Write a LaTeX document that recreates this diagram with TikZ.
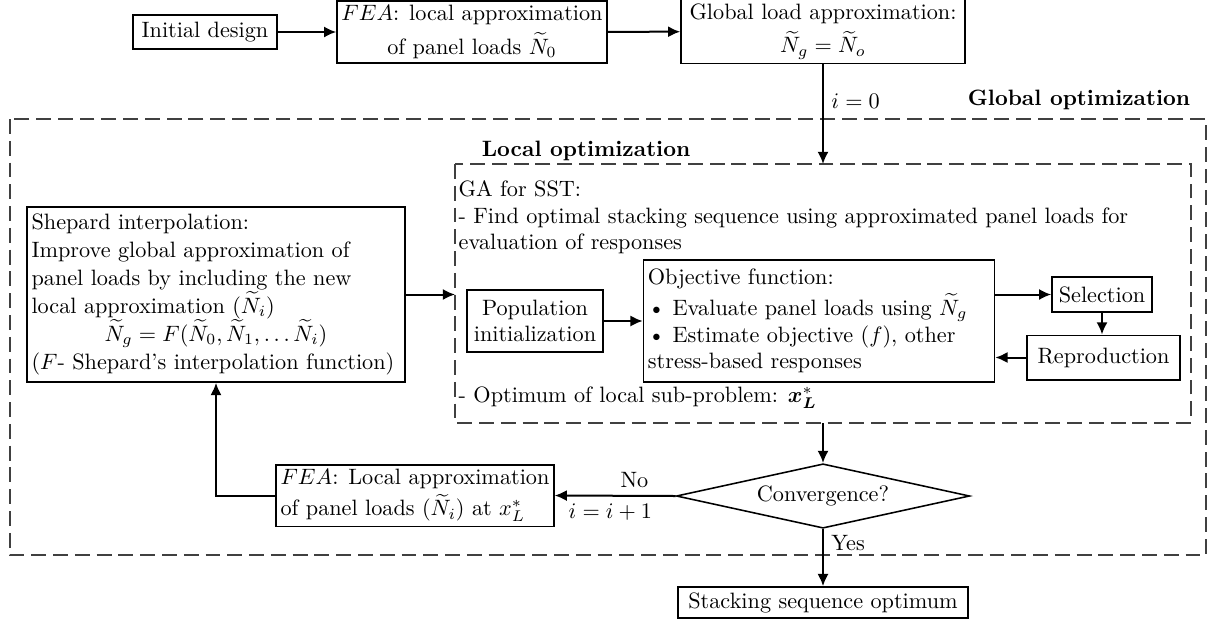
\documentclass[tikz,border=0pt]{standalone}
\usepackage{amsmath,bm}
\usetikzlibrary{shapes.geometric,arrows.meta}

\tikzset{
  box/.style={draw, line width=0.7pt, inner sep=2pt, align=center},
  flow/.style={line width=0.9pt, -{Latex[length=5.5pt,width=5pt]}},
  frame/.style={draw=black!75, line width=0.6pt, dash pattern=on 6.7pt off 3.1pt},
}

\begin{document}
\begin{tikzpicture}[x=0.45pt,y=-0.45pt]
\useasboundingbox (0,0) rectangle (1216,624);

% optimization frames
\draw[frame] (10,119) rectangle (1206,555);
\draw[frame] (455,164) rectangle (1191,423);
\coordinate (loc-nw) at (455,164);
\coordinate (loc-se) at (1191,423);
\node[anchor=east, font=\bfseries] (globlabel) at (1198,100) {Global optimization};
\node[anchor=west, font=\bfseries] (loclabel) at (474,151) {Local optimization};

% top row
\node[box, minimum width=64.8pt, minimum height=15.3pt] (init) at (205,32) {Initial design};
\node[box, minimum width=121pt, minimum height=27pt] (fea0) at (472,32)
  {$FEA$: local approximation\\[3pt] of panel loads $\widetilde{N}_0$};
\node[box, minimum width=127.8pt, minimum height=28.4pt] (glob) at (823,31.5)
  {Global load approximation:\\[3pt] $\widetilde{N}_g=\widetilde{N}_o$};

% global loop
\node[box, text width=166pt, align=left, minimum height=78.8pt,
  font=\fontsize{10}{12.6}\selectfont] (shep) at (216,294.5)
  {Shepard interpolation:\\ Improve global approximation of\\ panel loads by including the new\\
   local approximation $(\widetilde{N}_i)$\\
   \makebox[\hsize]{$\widetilde{N}_g=F(\widetilde{N}_0,\widetilde{N}_1,\ldots\widetilde{N}_i)$}\\
   ($F$- Shepard's interpolation function)};

% GA inside the local frame
\node[anchor=north west, align=left, inner sep=1pt] (gatext) at (456,178)
  {GA for SST:\\ - Find optimal stacking sequence using approximated panel loads for\\ evaluation of responses};
\node[box, minimum width=61.2pt, minimum height=27.9pt] (pop) at (535,321) {Population\\ initialization};
\node[box, text width=154pt, align=left, minimum height=54.9pt] (obj) at (819,321)
  {Objective function:\\[2pt] \textbullet\ Evaluate panel loads using $\widetilde{N}_g$\\
   \textbullet\ Estimate objective $(f)$, other\\ stress-based responses};
\node[box, minimum width=45pt, minimum height=15.8pt] (sel) at (1102,294.5) {Selection};
\node[box, minimum width=69pt, minimum height=20pt] (repr) at (1103.5,357.5) {Reproduction};
\node[anchor=west, inner sep=1pt] (optimum) at (456,398)
  {- Optimum of local sub-problem: $\bm{x}_{\bm{L}}^{*}$};

% bottom
\node[draw, diamond, aspect=4.5, inner sep=0pt, line width=0.7pt,
  minimum width=132pt, minimum height=29pt] (conv) at (823,496) {Convergence?};
\node[box, align=left, minimum width=125pt, minimum height=27.5pt] (feai) at (415,495.5)
  {$FEA$: Local approximation\\[2pt] of panel loads $(\widetilde{N}_i)$ at $x_L^{*}$};
\node[box, minimum width=130.5pt, minimum height=14pt] (stack) at (823,602.5) {Stacking sequence optimum};

% connectors
\draw[flow] (init) -- (fea0);
\draw[flow] (fea0) -- (glob);
\draw[flow] (glob.south) -- node[right, pos=0.37] {$i=0$} (glob.south |- loc-nw);
\draw[flow] (shep.east) -- (shep.east -| loc-nw);
\draw[flow] (pop) -- (obj);
\draw[flow] (obj.east |- sel.west) -- (sel.west);
\draw[flow] (sel.south) -- (sel.south |- repr.north);
\draw[flow] (repr.west) -- (repr.west -| obj.east);
\draw[flow] (conv.north |- loc-se) -- (conv.north);
\draw[flow] (conv.west) -- node[above, pos=0.34] {No} node[below, pos=0.54] {$i=i+1$} (feai.east);
\draw[flow] (feai.west) -| (shep.south);
\draw[flow] (conv.south) -- node[right, pos=0.24] {Yes} (stack.north);
\end{tikzpicture}
\end{document}
